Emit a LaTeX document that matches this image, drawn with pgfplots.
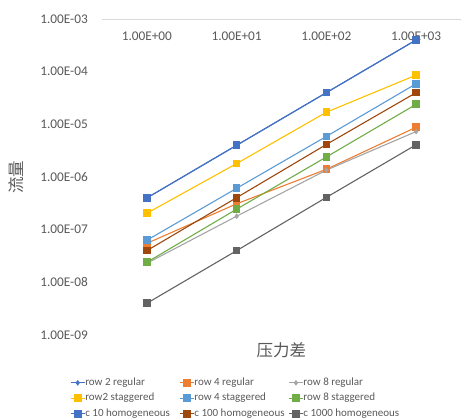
\documentclass[border=0pt]{standalone}
\usepackage{pgfplots}
\pgfplotsset{compat=1.18}
\usepackage{fontspec}
\setmainfont{Carlito}
\newfontfamily\cjk{Noto Sans CJK SC}
\definecolor{txt}{HTML}{595959}
\definecolor{cA}{HTML}{4472C4}
\definecolor{cB}{HTML}{ED7D31}
\definecolor{cC}{HTML}{A5A5A5}
\definecolor{cD}{HTML}{FFC000}
\definecolor{cE}{HTML}{5B9BD5}
\definecolor{cF}{HTML}{70AD47}
\definecolor{cG}{HTML}{4472C4}
\definecolor{cH}{HTML}{9E480E}
\definecolor{cI}{HTML}{636363}
\newcommand{\legtxt}[1]{\makebox[94pt][l]{#1}}
\begin{document}
\begin{tikzpicture}
\begin{axis}[
  scale only axis, width=359pt, height=316pt,
  ymode=log, ymin=1e-9, ymax=1e-3,
  xmin=-0.5, xmax=3.5,
  separate axis lines,
  axis x line*=top, axis y line*=left,
  y axis line style={draw=none},
  x axis line style={draw=black!15, line width=0.8pt},
  tick style={draw=none},
  ytick={1e-9,1e-8,1e-7,1e-6,1e-5,1e-4,1e-3},
  yticklabels={1.00E-09,1.00E-08,1.00E-07,1.00E-06,1.00E-05,1.00E-04,1.00E-03},
  xtick={0,1,2,3},
  xticklabels={1.00E+00,1.00E+01,1.00E+02,1.00E+03},
  /pgf/number format/assume math mode=true,
  ticklabel style={font=\fontsize{13.3}{16}\selectfont, text=txt},
  yticklabel style={anchor=east, inner sep=0pt, xshift=-14pt},
  xticklabel style={anchor=center, inner sep=0pt, yshift=-17.5pt},
  xlabel={\cjk 压力差},
  ylabel={\cjk 流量},
  label style={font=\fontsize{16.5}{18}\selectfont, text=txt},
  xlabel style={at={(axis description cs:0.5,-0.047)}, anchor=center},
  ylabel style={at={(axis description cs:-0.2376,0.5)}, anchor=center},
  every axis plot/.append style={line width=1.1pt, mark size=3.3pt},
  legend columns=3,
  legend style={at={(axis description cs:-0.0975,-0.127)}, anchor=north west,
    draw=none, fill=none, font=\fontsize{11}{13}\selectfont, text=txt,
    nodes={inner sep=0pt, text height=8pt, text depth=3pt},
    column sep=0pt, row sep=4.5pt},
  legend image code/.code={\draw[mark repeat=2,mark phase=2,#1] plot coordinates {(0pt,0pt) (7pt,0pt) (14pt,0pt)};},
]
\addplot[cA, mark=diamond*, mark size=2pt] coordinates {(0,4e-7) (1,4e-6) (2,4e-5) (3,4e-4)};
\addlegendentry{\legtxt{row 2 regular}}
\addplot[cB, mark=square*] coordinates {(0,5.5e-8) (1,3.1e-7) (2,1.4e-6) (3,8.8e-6)};
\addlegendentry{\legtxt{row 4 regular}}
\addplot[cC, mark=diamond*, mark size=2pt] coordinates {(0,2.3e-8) (1,1.8e-7) (2,1.35e-6) (3,7.3e-6)};
\addlegendentry{\legtxt{row 8 regular}}
\addplot[cD, mark=square*] coordinates {(0,2.05e-7) (1,1.8e-6) (2,1.7e-5) (3,8.6e-5)};
\addlegendentry{\legtxt{row2 staggered}}
\addplot[cE, mark=square*] coordinates {(0,6.3e-8) (1,6.1e-7) (2,5.9e-6) (3,5.9e-5)};
\addlegendentry{\legtxt{row 4 staggered}}
\addplot[cF, mark=square*] coordinates {(0,2.4e-8) (1,2.45e-7) (2,2.4e-6) (3,2.4e-5)};
\addlegendentry{\legtxt{row 8 staggered}}
\addplot[cG, mark=square*] coordinates {(0,4e-7) (1,4e-6) (2,4e-5) (3,4e-4)};
\addlegendentry{\legtxt{c 10 homogeneous}}
\addplot[cH, mark=square*] coordinates {(0,4e-8) (1,4.05e-7) (2,4.15e-6) (3,4e-5)};
\addlegendentry{\legtxt{c 100 homogeneous}}
\addplot[cI, mark=square*] coordinates {(0,4e-9) (1,4e-8) (2,4.1e-7) (3,4.1e-6)};
\addlegendentry{\legtxt{c 1000 homogeneous}}
\end{axis}
\pgfresetboundingbox
\useasboundingbox (-102pt,-85pt) rectangle (359pt,335pt);
\end{tikzpicture}
\end{document}
